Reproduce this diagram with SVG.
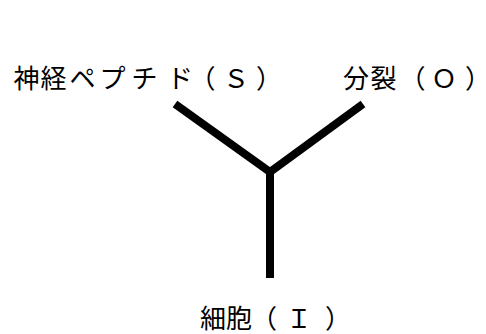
<svg xmlns="http://www.w3.org/2000/svg" width="486" height="334" viewBox="0 0 486 334">
<style>
.lbl{font-family:"Noto Sans CJK JP","Noto Sans CJK SC",sans-serif;font-size:26px;fill:#000;text-anchor:middle}
.edge{stroke:#000;stroke-width:8;fill:none;stroke-linecap:butt}
</style>
<rect width="486" height="334" fill="#fff"/>
<g id="connectors">
<line class="edge" x1="175" y1="104" x2="270" y2="172"/>
<line class="edge" x1="363" y1="104" x2="270" y2="172"/>
<line class="edge" x1="270" y1="170" x2="270" y2="278"/>
</g>
<g id="node-S"><text class="lbl" x="26.5 53.5 82.5 112.5 144.5 180 202.5 236 269" y="88">神経ペプチド（Ｓ）</text></g>
<g id="node-O"><text class="lbl" x="356 383.5 412.5 444 478" y="88">分裂（Ｏ）</text></g>
<g id="node-I"><text class="lbl" x="213 239 264 299 338" y="328">細胞（Ｉ）</text></g>
</svg>
